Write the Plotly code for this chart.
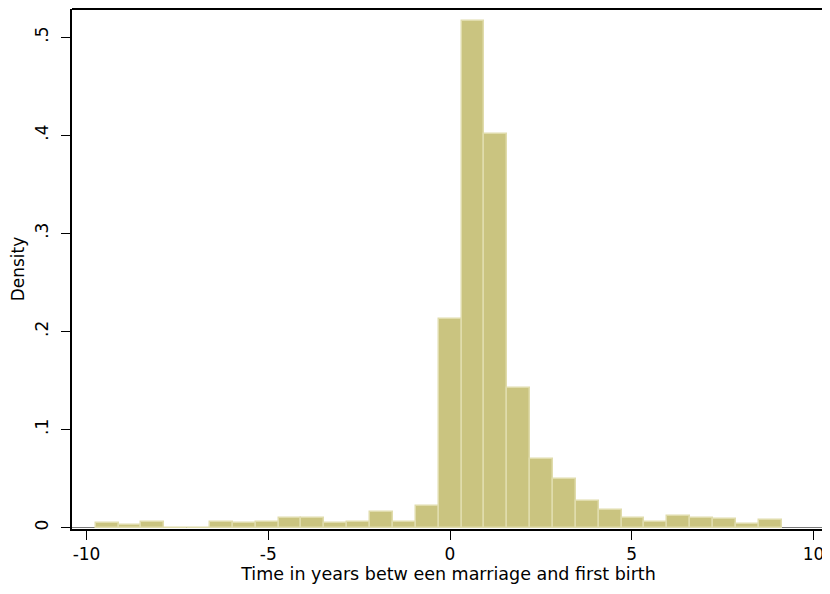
import plotly.graph_objects as go

# Histogram bins (Stata-style, 30 equal-width bins)
bin_start = -9.747
bin_width = 0.629
density = [0.005, 0.003, 0.006, 0.0, 0.0, 0.006, 0.005, 0.006, 0.010, 0.010,
           0.005, 0.006, 0.0155, 0.006, 0.0215, 0.2125, 0.516, 0.401, 0.1427, 0.0698,
           0.0493, 0.0266, 0.018, 0.0098, 0.0054, 0.0115, 0.0098, 0.0084, 0.0034, 0.0074]
bin_centers = [bin_start + bin_width * (i + 0.5) for i in range(len(density))]

x_ticks = [-10, -5, 0, 5, 10]
x_ticklabels = ["-10", "-5", "0", "5", "10"]
y_ticks = [0, 0.1, 0.2, 0.3, 0.4, 0.5]
y_ticklabels = ["0", ".1", ".2", ".3", ".4", ".5"]

FONT = "DejaVu Sans"

fig = go.Figure()
fig.add_trace(go.Bar(
    x=bin_centers, y=density, width=bin_width,
    marker=dict(color="rgb(202,196,128)", line=dict(color="rgb(224,220,172)", width=1.5)),
    showlegend=False, hoverinfo="skip",
))

# page has an 8px body margin: figure is 822x586 so it fills the 830x594 window
fig.update_layout(
    width=822, height=586,
    margin=dict(l=64, r=5, t=1, b=65),
    paper_bgcolor="white", plot_bgcolor="white",
    bargap=0,
    font=dict(family=FONT, size=17, color="black"),
    xaxis=dict(
        range=[-10.40, 10.317], tickvals=x_ticks, ticktext=x_ticklabels,
        ticks="outside", ticklen=9, tickwidth=1, tickcolor="black",
        showline=True, linecolor="black", linewidth=2,
        showgrid=False, zeroline=False,
        tickfont=dict(family=FONT, size=17),
        title=dict(text="Time in years betw een marriage and first birth",
                   font=dict(family=FONT, size=17.5), standoff=2),
    ),
    yaxis=dict(
        range=[-0.0015, 0.5286], tickvals=y_ticks, ticktext=y_ticklabels,
        ticks="outside", ticklen=9, tickwidth=1, tickcolor="black",
        tickangle=-90, ticklabelstandoff=6,
        showline=True, linecolor="black", linewidth=2,
        showgrid=False, zeroline=False,
        tickfont=dict(family=FONT, size=17),
        title=dict(text="Density", font=dict(family=FONT, size=17), standoff=4),
    ),
    shapes=[
        dict(type="line", xref="paper", yref="paper", x0=0, x1=1, y0=1, y1=1,
             line=dict(color="black", width=2)),
        dict(type="line", xref="paper", yref="paper", x0=1, x1=1, y0=0.003, y1=1,
             line=dict(color="rgb(100,100,100)", width=1)),
        dict(type="line", xref="paper", yref="y", x0=0, x1=1, y0=0, y1=0,
             line=dict(color="rgb(120,120,120)", width=1), layer="below"),
    ],
)

fig.write_html("out.html")
